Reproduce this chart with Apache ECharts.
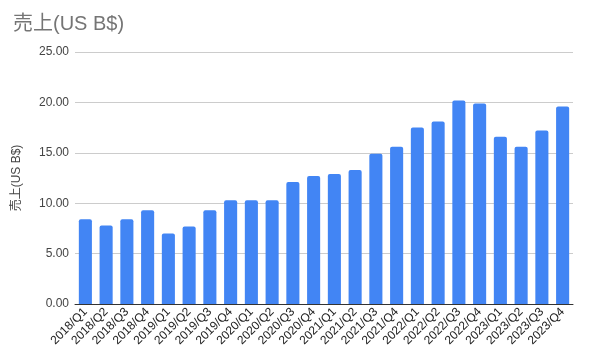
<!DOCTYPE html>
<html><head><meta charset="utf-8">
<script src="https://cdn.jsdelivr.net/npm/echarts@6/dist/echarts.min.js"></script>
<style>html,body{margin:0;padding:0;background:#fff}#c{width:592px;height:358px}</style>
</head><body><div id="c"></div>
<script>
const categories = ["2018/Q1","2018/Q2","2018/Q3","2018/Q4","2019/Q1","2019/Q2","2019/Q3","2019/Q4","2020/Q1","2020/Q2","2020/Q3","2020/Q4","2021/Q1","2021/Q2","2021/Q3","2021/Q4","2022/Q1","2022/Q2","2022/Q3","2022/Q4","2023/Q1","2023/Q2","2023/Q3","2023/Q4"];
const sales = [8.4,7.8,8.4,9.3,7.0,7.7,9.3,10.3,10.3,10.3,12.1,12.7,12.9,13.3,14.9,15.6,17.5,18.1,20.2,19.9,16.6,15.6,17.2,19.6];
const titleText = "売上(US B$)";
const axisName = "売上(US B$)";
const FONT = '"Liberation Sans", Arial, "Noto Sans CJK JP", sans-serif';
const chart = echarts.init(document.getElementById('c'), null, {renderer:'canvas'});
chart.setOption({
  animation:false,
  textStyle:{fontFamily:FONT},
  title:{text:titleText,left:8,top:9,textStyle:{fontFamily:FONT,fontSize:20,fontWeight:'normal',color:'#757575'}},
  grid:{left:75,right:19,top:52,bottom:54,containLabel:false},
  xAxis:{type:'category',data:categories,
    axisLine:{show:true,lineStyle:{color:'#333',width:1}},
    axisTick:{show:false},
    axisLabel:{rotate:45,interval:0,fontSize:12,color:'#222',margin:6,fontFamily:FONT}},
  yAxis:{type:'value',min:0,max:25,interval:5,
    name:axisName,nameLocation:'middle',nameGap:52,nameRotate:90,
    nameTextStyle:{fontSize:12,color:'#444',fontFamily:FONT},
    axisLine:{show:false},axisTick:{show:false},
    splitLine:{lineStyle:{color:'#ccc',width:1}},
    axisLabel:{formatter:v=>v.toFixed(2),fontSize:12,color:'#444',margin:6,fontFamily:FONT}},
  series:[{type:'bar',data:sales,barCategoryGap:'37%',
    itemStyle:{color:'#4285f4',borderRadius:[2,2,0,0]}}]
});
</script></body></html>
